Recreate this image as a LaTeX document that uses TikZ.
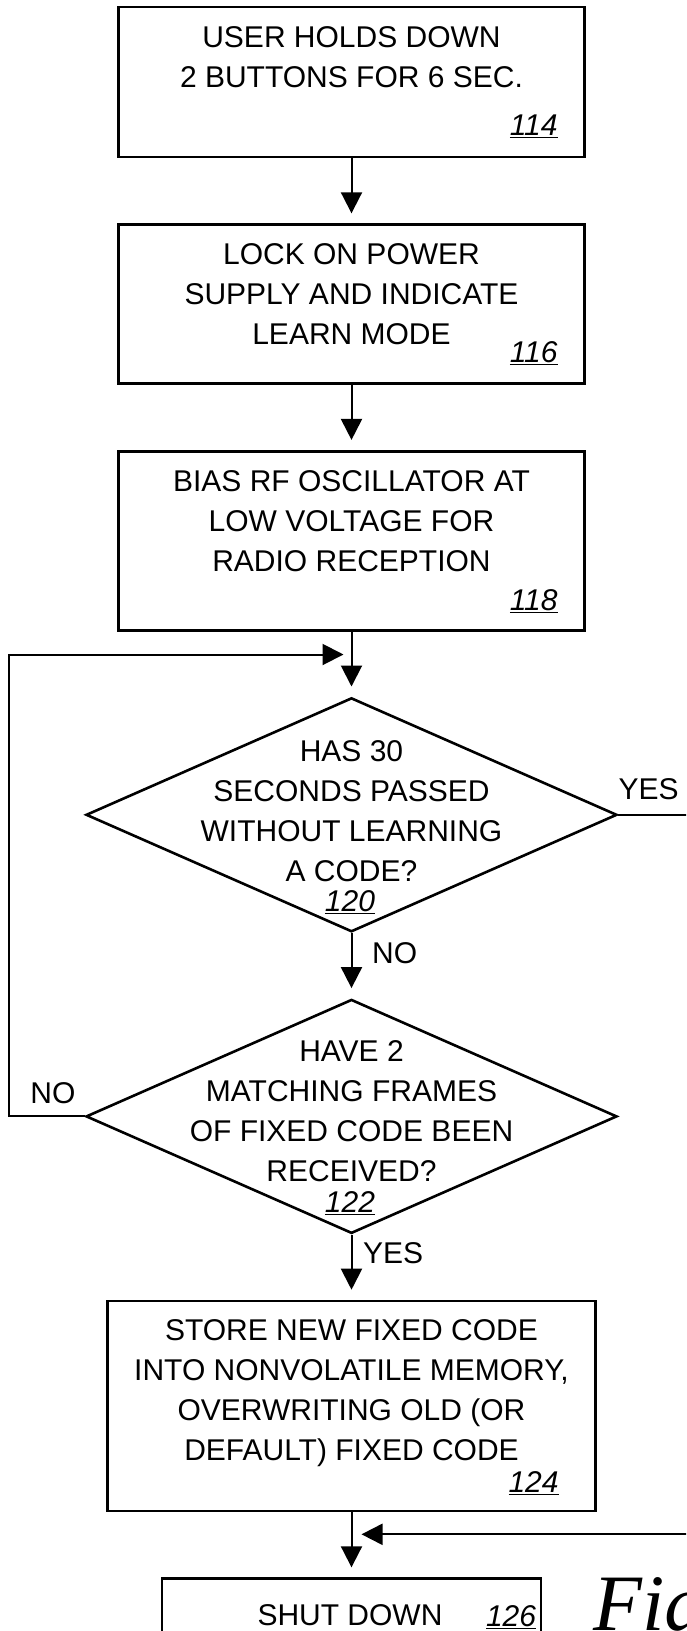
\documentclass[tikz,border=0pt]{standalone}
\usepackage{fontspec}
\setmainfont{Liberation Sans}
\newfontfamily\figfont{Liberation Serif}
\usetikzlibrary{shapes.geometric, arrows.meta, positioning}
\tikzstyle{block} = [draw, rectangle, line width=2.6pt,
    minimum width=466pt, inner sep=0pt]
\tikzstyle{decision} = [draw, diamond, line width=2.6pt,
    minimum width=531pt, minimum height=234pt, inner sep=0pt]
\tikzstyle{words} = [align=center, inner sep=0pt, font=\fontsize{30}{40}\selectfont]
\tikzstyle{tag} = [inner sep=0pt, font=\fontsize{30}{36}\selectfont]
\tikzstyle{flow} = [draw, line width=2pt, shorten >=10pt]
\newcommand{\stepno}[1]{\underline{\textit{#1}}}

\begin{document}
\begin{tikzpicture}[x=1pt, y=1pt, node distance=65pt, >={Triangle[length=21pt, width=21pt]}]
    \useasboundingbox (0,0) rectangle (686,-1631);
    \clip (0,0) rectangle (686,-1631);
    \node [block, minimum height=150pt] (hold) at (351.5,-82) {};
    \node [block, minimum height=159pt, below=of hold] (lock) {};
    \node [block, minimum height=179pt, below=of lock] (bias) {};
    \node [decision, below=of bias] (timeout) {};
    \node [decision, below=of timeout] (match) {};
    \node [block, minimum width=488pt, minimum height=210pt, below=of match] (store) {};
    \node [block, minimum width=379pt, minimum height=120pt, below=of store] (shutdown) {};

    \node [words, yshift=24.5pt] (holdtext) at (hold) {USER HOLDS DOWN\\2 BUTTONS FOR 6 SEC.};
    \node [words, yshift=10pt] (locktext) at (lock) {LOCK ON POWER\\SUPPLY AND INDICATE\\LEARN MODE};
    \node [words, yshift=20pt] (biastext) at (bias) {BIAS RF OSCILLATOR AT\\LOW VOLTAGE FOR\\RADIO RECEPTION};
    \node [words, yshift=3.5pt] (timeouttext) at (timeout) {HAS 30\\SECONDS PASSED\\WITHOUT LEARNING\\A CODE?};
    \node [words, yshift=5pt] (matchtext) at (match) {HAVE 2\\MATCHING FRAMES\\OF FIXED CODE BEEN\\RECEIVED?};
    \node [words, yshift=13pt] (storetext) at (store) {STORE NEW FIXED CODE\\INTO NONVOLATILE MEMORY,\\OVERWRITING OLD (OR\\DEFAULT) FIXED CODE};
    \node [words] (shutdowntext) at ([shift={(-1.5,-38)}]shutdown.north) {SHUT DOWN};

    \node [tag, anchor=base east] (holdno) at ([shift={(-28,23)}]hold.south east) {\stepno{114}};
    \node [tag, anchor=base east] (lockno) at ([shift={(-28,22)}]lock.south east) {\stepno{116}};
    \node [tag, anchor=base east] (biasno) at ([shift={(-28,21)}]bias.south east) {\stepno{118}};
    \node [tag, anchor=base] (timeoutno) at ([shift={(-1.5,22)}]timeout.south) {\stepno{120}};
    \node [tag, anchor=base] (matchno) at ([shift={(-1.5,22)}]match.south) {\stepno{122}};
    \node [tag, anchor=base east] (storeno) at ([shift={(-38,20)}]store.south east) {\stepno{124}};
    \node [tag, anchor=base east] (shutdownno) at ([shift={(-6,-49)}]shutdown.north east) {\stepno{126}};

    \node [tag, anchor=base west] (yes1) at ([yshift=15pt]timeout.east) {YES};
    \node [tag, anchor=base west] (no1) at ([shift={(20.5,-30)}]timeout.south) {NO};
    \node [tag, anchor=base east] (no2) at ([shift={(-9,13)}]match.west) {NO};
    \node [tag, anchor=base west] (yes2) at ([shift={(11.5,-29)}]match.south) {YES};
    \node [anchor=base west, inner sep=0pt, font=\figfont\fontsize{80}{80}\selectfont\itshape]
        (fig) at ([shift={(51,-53)}]shutdown.north east) {Fig};

    \coordinate [below=23pt of bias.south] (rejoin);
    \coordinate [below=22pt of store.south] (merge);

    \draw [flow, ->] (hold) -- (lock);
    \draw [flow, ->] (lock) -- (bias);
    \draw [flow, ->] (bias) -- (timeout);
    \draw [flow, ->] (timeout) -- (match);
    \draw [flow, ->] (match) -- (store);
    \draw [flow, ->] (store) -- (shutdown);
    \draw [flow, ->, shorten >=8pt] (match.west) -- ++(-76,0) |- (rejoin);
    \draw [flow, ->] (timeout.east) -- ++(90,0) |- (merge);
\end{tikzpicture}
\end{document}
